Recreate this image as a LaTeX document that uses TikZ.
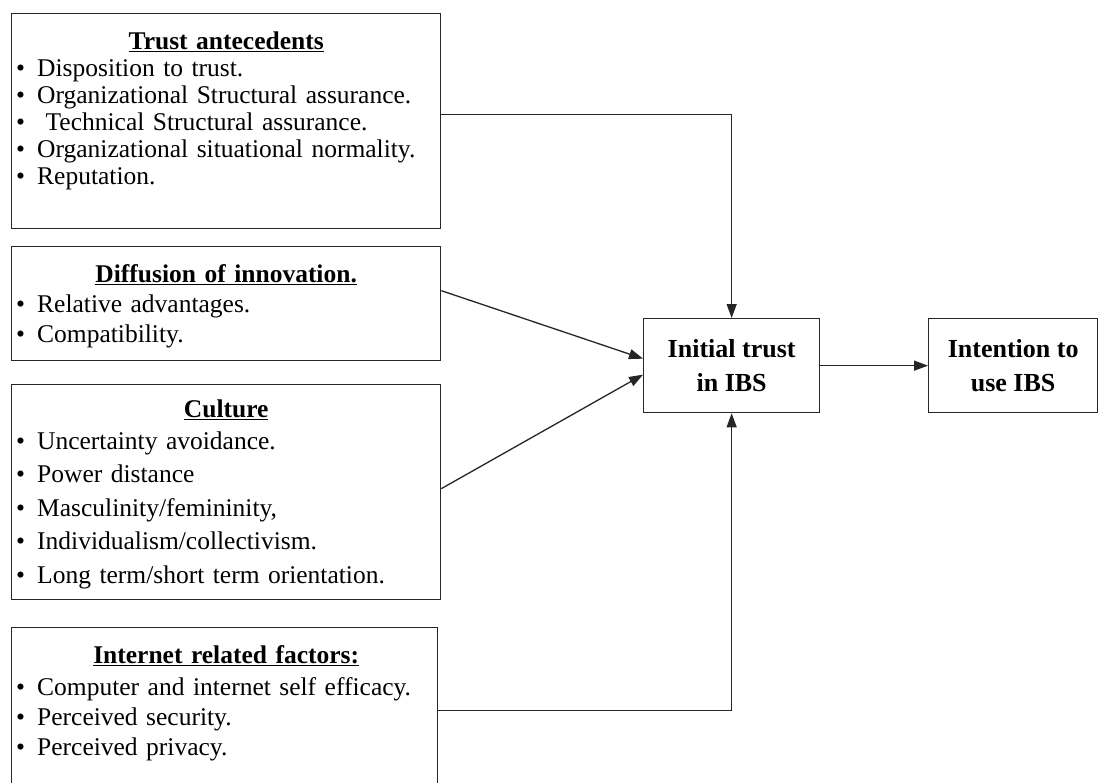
\documentclass[tikz,border=0pt]{standalone}
\usepackage{fontspec}
\setmainfont{Liberation Serif}
\usetikzlibrary{arrows.meta}
\newcommand{\blt}{\makebox[21pt][l]{\textbullet}}
\newcommand{\ttl}[1]{\makebox[420pt][c]{\textbf{\underline{#1}}}}
\begin{document}
\begin{tikzpicture}[x=1pt,y=-1pt,
  box/.style={draw=black!85, line width=1.3pt, inner sep=0pt, anchor=north west},
  lst/.style={inner sep=0pt, anchor=north west, text width=420pt, align=left},
  ctr/.style={draw=black!85, line width=1.3pt, inner sep=0pt, align=center, anchor=north west,
    font=\fontsize{26}{34}\selectfont\bfseries},
  arr/.style={line width=1.3pt, draw=black!85, -{Triangle[length=14pt,width=10pt]}}]
\useasboundingbox (0,0) rectangle (1099,782);
\fill[white] (0,0) rectangle (1099,782);
% boxes
\node[box, minimum width=429pt, minimum height=215pt] (ta) at (11,13) {};
\node[box, minimum width=429pt, minimum height=114pt] (di) at (11,246) {};
\node[box, minimum width=429pt, minimum height=215pt] (cu) at (11,384) {};
\node[box, minimum width=426pt, minimum height=170pt] (ir) at (11,627) {};
\node[ctr, minimum width=176pt, minimum height=94pt] (it) at (643,318) {Initial trust\\in IBS};
\node[ctr, minimum width=169pt, minimum height=94pt] (iu) at (928,318) {Intention to\\use IBS};
% texts
\node[lst, font=\fontsize{25.5}{27}\selectfont] (tat) at (16,32) {\ttl{Trust antecedents}\\
\blt Disposition to trust.\\
\blt Organizational Structural assurance.\\
\blt \ Technical Structural assurance.\\
\blt Organizational situational normality.\\
\blt Reputation.};
\node[lst, font=\fontsize{25.5}{30}\selectfont] (dit) at (16,264) {\ttl{Diffusion of innovation.}\\
\blt Relative advantages.\\
\blt Compatibility.};
\node[lst, font=\fontsize{25.5}{33.5}\selectfont] (cut) at (16,400) {\ttl{Culture}\\[-2pt]
\blt Uncertainty avoidance.\\
\blt Power distance\\
\blt Masculinity/femininity,\\
\blt Individualism/collectivism.\\
\blt Long term/short term orientation.};
\node[lst, font=\fontsize{25.5}{30}\selectfont] (irt) at (16,645) {\ttl{Internet related factors:}\\[2pt]
\blt Computer and internet self efficacy.\\
\blt Perceived security.\\
\blt Perceived privacy.};
% connectors
\draw[arr] ([yshift=6.5pt]ta.east) -| (it.north);
\draw[arr] ([yshift=13pt]di.east) -- ([yshift=7pt]it.west);
\draw[arr] ([yshift=3.5pt]cu.east) -- ([yshift=-9pt]it.west);
\draw[arr] ([yshift=2pt]ir.east) -| (it.south);
\draw[arr] (it.east) -- (iu.west);
\end{tikzpicture}
\end{document}
